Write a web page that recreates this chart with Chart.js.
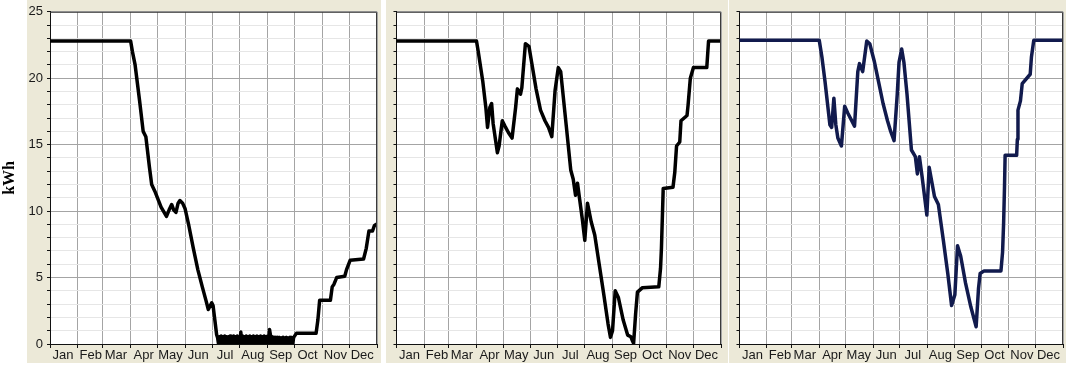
<!DOCTYPE html>
<html>
<head>
<meta charset="utf-8">
<script src="https://cdn.jsdelivr.net/npm/chart.js@4.4.1/dist/chart.umd.min.js"></script>
<style>
  body { margin: 0; background: #fff; width: 1066px; height: 370px; overflow: hidden; position: relative; }
  canvas { position: absolute; top: 0; }
</style>
</head>
<body>
<canvas id="c1" width="381" height="363" style="left:0"></canvas>
<canvas id="c2" width="342" height="363" style="left:386px"></canvas>
<canvas id="c3" width="337" height="363" style="left:729px"></canvas>
<script>
// month boundaries (day of year) and labels
const monthStarts = [0, 31, 59, 90, 120, 151, 181, 212, 243, 273, 304, 334, 365];
const monthLabels = ['Jan', 'Feb', 'Mar', 'Apr', 'May', 'Jun', 'Jul', 'Aug', 'Sep', 'Oct', 'Nov', 'Dec'];
const yTicks = [0, 5, 10, 15, 20, 25];

// panel 1 (day, kWh)
const p1Day = [0, 90, 92, 95, 100, 104, 107, 111, 113.5, 117, 124, 130, 133, 135.8, 138, 140.6, 143, 145, 148, 150.7,
  155, 160, 165, 170, 174, 176.7, 180.5, 182, 184, 186, 187,
  188, 189, 190, 191, 192, 193, 194, 195, 196, 197, 198, 199, 200, 201, 202, 203, 204, 205, 206, 207, 208, 209,
  210, 211, 212, 213, 214, 215, 216, 217, 218, 219, 220, 221, 222, 223, 224, 225, 226, 227, 228, 229, 230, 231,
  232, 233, 234, 235, 236, 237, 238, 239, 240, 241, 242, 243, 244, 245, 246, 247, 248, 249, 250, 251, 252, 253,
  254, 255, 256, 257, 258, 259, 260, 261, 262, 263, 264, 265, 266, 267, 268, 269, 270, 271,
  272, 275, 297, 299, 301, 313, 315, 317, 320, 329, 331, 335, 350, 353, 356, 360, 362, 364];
const p1Kwh = [22.8, 22.8, 22.0, 21.0, 18.3, 16.0, 15.6, 13.3, 12.0, 11.5, 10.3, 9.6, 10.1, 10.5, 10.1, 9.9, 10.6, 10.8, 10.6, 10.2,
  8.9, 7.2, 5.6, 4.3, 3.3, 2.6, 3.1, 2.9, 1.8, 0.7, 0.5,
  0.05, 0.55, 0.1, 0.6, 0.05, 0.55, 0.1, 0.6, 0.05, 0.55, 0.1, 0.55, 0.05, 0.6, 0.1, 0.55, 0.05, 0.6, 0.1, 0.55, 0.05, 0.6,
  0.1, 0.55, 0.05, 0.9, 0.1, 0.6, 0.05, 0.55, 0.1, 0.6, 0.05, 0.55, 0.1, 0.6, 0.05, 0.55, 0.1, 0.6, 0.05, 0.55, 0.1, 0.6,
  0.05, 0.55, 0.1, 0.6, 0.05, 0.55, 0.1, 0.6, 0.05, 0.55, 0.1, 0.6, 0.05, 1.1, 0.7, 0.05, 0.55, 0.1, 0.5, 0.05, 0.5, 0.1,
  0.5, 0.05, 0.5, 0.1, 0.45, 0.05, 0.5, 0.1, 0.45, 0.05, 0.5, 0.1, 0.45, 0.05, 0.5, 0.1, 0.45, 0.05,
  0.5, 0.8, 0.8, 1.8, 3.3, 3.3, 4.3, 4.5, 5.0, 5.1, 5.6, 6.3, 6.4, 7.2, 8.5, 8.5, 8.9, 9.0];

// panel 2
const p2Day = [0, 90, 92, 97, 100.5, 102.4, 105, 107, 108.7, 113.5, 115.4, 119, 122, 126, 130, 134, 136, 139.5, 141, 145, 149,
  152, 157, 162, 167, 171, 174.7, 178.4, 182, 184.7, 191, 196, 198.8, 201.4, 203.6, 206, 209, 211.8, 214.8, 219, 223,
  228, 233, 238, 240.7, 243, 246, 249.6, 255, 260, 263.7, 265, 266.7, 269, 271, 276.7, 295, 297, 298, 300, 311, 313,
  315, 318.6, 320, 326.8, 328, 330.5, 334, 349, 350, 351, 365];
const p2Kwh = [22.8, 22.8, 22.0, 19.8, 17.8, 16.3, 17.8, 18.1, 16.6, 14.4, 14.9, 16.8, 16.4, 15.9, 15.5, 17.8, 19.2, 18.8, 19.3, 22.6, 22.4,
  21.2, 19.2, 17.6, 16.8, 16.3, 15.6, 19.1, 20.8, 20.5, 16.4, 13.1, 12.4, 11.2, 12.1, 10.9, 9.4, 7.8, 10.6, 9.2, 8.2,
  6.0, 3.8, 1.5, 0.5, 1.0, 4.0, 3.5, 1.8, 0.67, 0.54, 0.3, 0.05, 2.3, 3.9, 4.24, 4.3, 5.7, 7.2, 11.7, 11.8, 12.9,
  14.9, 15.2, 16.8, 17.2, 18.0, 20.0, 20.8, 20.8, 21.8, 22.8, 22.8];

// panel 3
const p3Day = [0, 90, 93, 96.5, 102, 104, 106.5, 108.7, 111, 115, 118.7, 122, 129.8, 133.5, 135.4, 139, 143.6, 147,
  152, 157, 162, 167, 170.6, 174.4, 178, 180, 183, 185.5, 189, 194, 198.4, 200.7, 203, 206, 211.4, 214, 220, 224.4,
  230, 235, 239.3, 243, 246, 249.6, 255, 261, 267, 269.7, 271.5, 276, 295, 296.8, 298, 299, 299.7, 312.7, 313.5,
  314.2, 317, 319, 328, 329.4, 332, 365];
const p3Kwh = [22.85, 22.85, 21.6, 19.75, 16.5, 16.3, 18.5, 16.5, 15.5, 14.9, 17.9, 17.4, 16.4, 20.5, 21.1, 20.5, 22.8, 22.6,
  21.3, 19.7, 18.1, 16.8, 16.0, 15.3, 18.8, 21.2, 22.2, 21.2, 18.8, 14.6, 14.1, 12.8, 14.1, 12.6, 9.7, 13.3, 11.1, 10.5,
  7.8, 5.3, 2.9, 3.7, 7.4, 6.6, 4.6, 2.8, 1.3, 4.2, 5.3, 5.5, 5.5, 6.9, 9.1, 11.8, 14.2, 14.2, 15.4,
  17.6, 18.3, 19.6, 20.3, 21.6, 22.85, 22.85];

const beige = '#ece9d8';
const majorGrid = '#a4a4a4';
const minorGrid = '#e6e6e6';
const labelFont = { family: "'Liberation Sans', Arial, sans-serif", size: 13 };

// beige panel, white plot area, and the dark frame on top/right
const panelFrame = {
  id: 'panelFrame',
  beforeDraw(chart, args, opts) {
    const { ctx, chartArea: a } = chart;
    const left = opts.left || 0;
    ctx.save();
    ctx.fillStyle = beige;
    ctx.fillRect(left, 0, chart.width - left, chart.height);
    ctx.fillStyle = '#fff';
    ctx.fillRect(a.left, a.top, a.right - a.left, a.bottom - a.top);
    ctx.restore();
  },
  afterDraw(chart) {
    const { ctx, chartArea: a } = chart;
    ctx.save();
    ctx.strokeStyle = '#3a3a3a';
    ctx.lineWidth = 1;
    ctx.beginPath();
    ctx.moveTo(a.left, a.top + 0.5);
    ctx.lineTo(a.right - 0.5, a.top + 0.5);
    ctx.lineTo(a.right - 0.5, a.bottom);
    ctx.stroke();
    ctx.restore();
  }
};

function makeChart(id, days, kwh, color, opt) {
  const ctx = document.getElementById(id).getContext('2d');
  return new Chart(ctx, {
    type: 'line',
    data: {
      datasets: [{
        data: days.map((d, i) => ({ x: d, y: kwh[i] })),
        borderColor: color,
        borderWidth: 3.5,
        borderJoinStyle: 'round',
        borderCapStyle: 'round',
        pointRadius: 0,
        tension: 0,
        fill: false
      }]
    },
    plugins: [panelFrame],
    options: {
      responsive: false,
      animation: false,
      events: [],
      layout: { padding: { top: 6, right: opt.padRight, left: 0, bottom: 0 } },
      plugins: {
        legend: { display: false },
        tooltip: { enabled: false },
        panelFrame: { left: opt.bgLeft }
      },
      scales: {
        x: {
          type: 'linear',
          min: 0,
          max: 365,
          afterBuildTicks: s => { s.ticks = monthStarts.map(v => ({ value: v })); },
          afterFit: s => { s.height = 19; },
          ticks: {
            autoSkip: false,
            maxRotation: 0,
            labelOffset: 13,
            padding: 0,
            color: '#1a1a1a',
            font: labelFont,
            callback: (v, i) => monthLabels[i] || ''
          },
          grid: { color: majorGrid, tickColor: '#111', tickLength: 4 },
          border: { color: '#111' }
        },
        y: {
          min: 0,
          max: 25,
          afterFit: s => { s.width = opt.yWidth; },
          ticks: {
            stepSize: 1,
            autoSkip: false,
            padding: 4,
            color: '#1a1a1a',
            font: labelFont,
            callback: v => (opt.yLabels && yTicks.includes(v)) ? String(v) : ''
          },
          grid: {
            color: c => (c.tick && c.tick.value % 5 === 0) ? majorGrid : minorGrid,
            tickColor: '#111',
            tickLength: 3
          },
          border: { color: '#111' },
          title: {
            display: !!opt.yTitle,
            text: opt.yTitle || '',
            color: '#000',
            padding: 0,
            font: { family: "'Liberation Serif', 'Times New Roman', serif", size: 16, weight: 'bold' }
          }
        }
      }
    }
  });
}

makeChart('c1', p1Day, p1Kwh, '#000', { yWidth: 50, padRight: 4, bgLeft: 27, yLabels: true, yTitle: 'kWh' });
makeChart('c2', p2Day, p2Kwh, '#000', { yWidth: 7, padRight: 7, bgLeft: 0, yLabels: false });
makeChart('c3', p3Day, p3Kwh, '#111a4d', { yWidth: 6, padRight: 3, bgLeft: 0, yLabels: false });
</script>
</body>
</html>
